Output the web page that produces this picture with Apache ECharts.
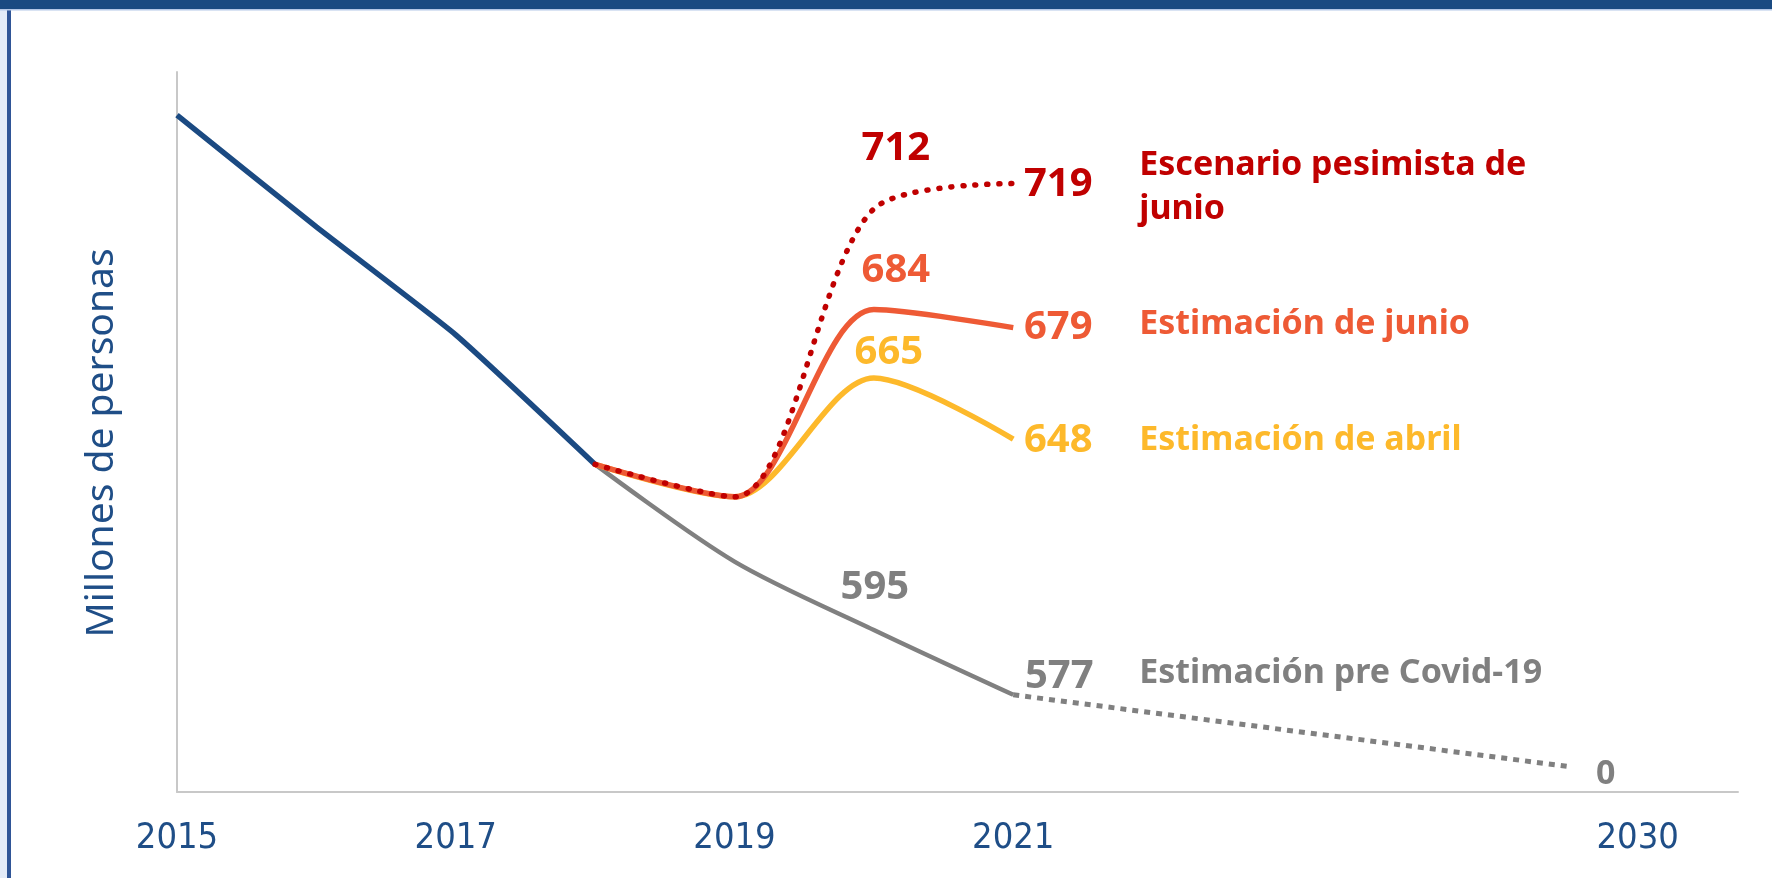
<!DOCTYPE html>
<html>
<head>
<meta charset="utf-8">
<script src="https://cdn.jsdelivr.net/npm/echarts@6/dist/echarts.min.js"></script>
<style>
  html, body { margin: 0; padding: 0; background: #fff; }
  #chart { width: 1772px; height: 878px; }
</style>
</head>
<body>
<div id="chart"></div>
<script>
// 年份 与 横轴位置（2021 到 2030 之间被压缩）
var years = ['2015', '2016', '2017', '2018', '2019', '2020', '2021', '2030']
var slots = [0, 1, 2, 3, 4, 5, 6, 10]
// 横轴刻度标签
var tickLabels = ['2015', '2017', '2019', '2021', '2030']
var tickSlots = [0, 2, 4, 6, 10.48]

// 各条线的数值（百万人）
var historico = [738, 707, 677, 641]        // 2015-2018
var preCovid = [641, 614, 595, 577]         // 2018-2021
var preCovidMeta = [577, 557]               // 2021-2030，2030 的目标画在轴底附近
var preCovidMetaLabel = ['', '0']
var abril = [641, 632, 665, 648]            // 2018-2021
var junio = [641, 632, 684, 679]
var pesimista = [641, 632, 712, 719]

var names = ['Escenario pesimista de\njunio', 'Estimación de junio', 'Estimación de abril', 'Estimación pre Covid-19']
var colors = ['#c00000', '#ee5a35', '#fdb92b', '#808080', '#1b4a82']

var font = 'Noto Sans'

// 把数值转成 [x, y] 点
function pts(from, values) {
  return values.map(function (v, i) {
    return [slots[from + i], v]
  })
}

// 给指定的点加标签
function withLabels(data, cfg, color) {
  return data.map(function (d, i) {
    if (!cfg[i]) return d
    return {
      value: d,
      label: Object.assign({
        show: true,
        position: 'inside',
        color: color,
        fontFamily: font,
        fontWeight: 'bold',
        fontSize: 40,
        formatter: function (p) { return p.value[1] }
      }, cfg[i])
    }
  })
}

function endLabel(text, color, offset) {
  return {
    show: true,
    formatter: text,
    color: color,
    fontFamily: font,
    fontWeight: 'bold',
    fontSize: 34,
    lineHeight: 44,
    align: 'left',
    verticalAlign: 'middle',
    distance: 0,
    offset: offset
  }
}

function lineSeries(name, data, color, width, type, smooth, z) {
  return {
    name: name,
    type: 'line',
    data: data,
    smooth: smooth,
    symbol: 'circle',
    symbolSize: 1,
    itemStyle: { color: 'rgba(0,0,0,0)' },
    lineStyle: { color: color, width: width, type: type, cap: type === 'solid' ? 'butt' : 'round' },
    z: z,
    silent: true
  }
}

var chart = echarts.init(document.getElementById('chart'), null, { renderer: 'canvas' })

var sHist = lineSeries('Histórico', pts(0, historico), colors[4], 5.5, 'solid', 0.15, 3)

var sPre = lineSeries(names[3], withLabels(pts(3, preCovid), {
  2: { offset: [1, -42], color: colors[3] },
  3: { offset: [46, -18], color: colors[3] }
}, colors[3]), colors[3], 4.5, 'solid', 0.3, 3)
sPre.endLabel = endLabel(names[3], colors[3], [126, -21])

var sMeta = lineSeries('Meta 2030', withLabels(pts(6, preCovidMeta), {
  1: { offset: [35, 8], color: colors[3], fontSize: 34, formatter: function (p) { return preCovidMetaLabel[p.dataIndex] } }
}, colors[3]), colors[3], 5, [6, 6], 0, 2)
sMeta.lineStyle.cap = 'butt'

var sAbril = lineSeries(names[2], withLabels(pts(3, abril), {
  2: { offset: [15, -25] },
  3: { offset: [45, 1] }
}, colors[2]), colors[2], 5.5, 'solid', 0.3, 4)
sAbril.endLabel = endLabel(names[2], colors[2], [126, 1])

var sJunio = lineSeries(names[1], withLabels(pts(3, junio), {
  2: { offset: [22, -39] },
  3: { offset: [45, 0] }
}, colors[1]), colors[1], 5.5, 'solid', 0.3, 5)
sJunio.endLabel = endLabel(names[1], colors[1], [126, -3])

var sPes = lineSeries(names[0], withLabels(pts(3, pesimista), {
  2: { offset: [22, -60] },
  3: { offset: [45, 1] }
}, colors[0]), colors[0], 5.5, [1, 11], 0.3, 6)
sPes.endLabel = endLabel(names[0], colors[0], [126, 4])

var option = {
  backgroundColor: '#ffffff',
  animation: false,
  grid: { left: 177, right: 34, top: 72, bottom: 86 },
  xAxis: {
    type: 'value',
    min: 0,
    max: 11.2,
    axisLine: { show: true, lineStyle: { color: '#c8c8c8', width: 2 } },
    axisTick: { show: false },
    splitLine: { show: false },
    axisLabel: {
      customValues: tickSlots,
      formatter: function (v) {
        var i = tickSlots.indexOf(v)
        return i >= 0 ? tickLabels[i] : ''
      },
      color: '#1f4e87',
      fontFamily: 'Liberation Sans Narrow, DejaVu Sans Condensed, sans-serif',
      fontSize: 36,
      margin: 29
    }
  },
  yAxis: {
    type: 'value',
    min: 550,
    max: 750,
    name: 'Millones de personas',
    nameLocation: 'middle',
    nameGap: 56,
    nameTextStyle: { color: '#1f4e87', fontFamily: font, fontSize: 39, padding: [0, 22, 0, 0] },
    axisLine: { show: true, lineStyle: { color: '#c8c8c8', width: 2 } },
    axisTick: { show: false },
    axisLabel: { show: false },
    splitLine: { show: false }
  },
  graphic: [
    { type: 'rect', shape: { x: 0, y: 0, width: 7, height: 878 }, style: { fill: '#e3ebf8' } },
    { type: 'rect', shape: { x: 7, y: 0, width: 4, height: 878 }, style: { fill: '#2f5597' } },
    { type: 'rect', shape: { x: 0, y: 0, width: 1772, height: 9 }, style: { fill: '#1a4a82' } },
    { type: 'rect', shape: { x: 0, y: 9, width: 1772, height: 1.5 }, style: { fill: '#b4c7e7' } }
  ],
  series: [sHist, sPre, sMeta, sAbril, sJunio, sPes]
}

chart.setOption(option)
</script>
</body>
</html>
